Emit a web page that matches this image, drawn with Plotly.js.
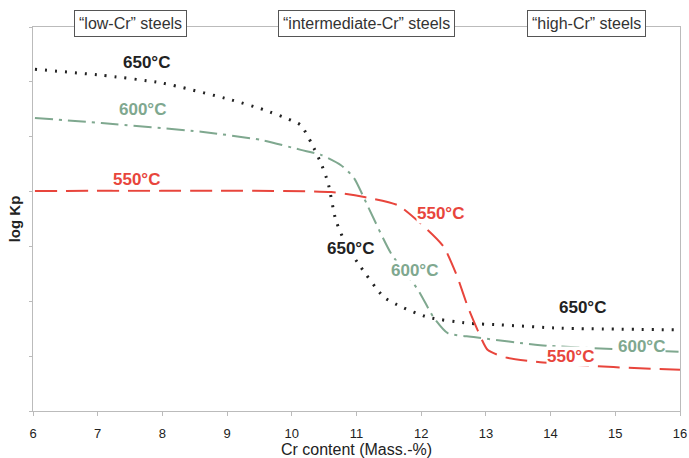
<!DOCTYPE html>
<html><head><meta charset="utf-8">
<script src="https://cdn.plot.ly/plotly-3.0.1.min.js"></script>
<style>body{margin:0;background:#fff}#c{width:689px;height:458px}</style>
</head><body><div id="c"></div>
<script>
const xTicks = [6,7,8,9,10,11,12,13,14,15,16];
const x650 = [6.03,7.06,7.99,9.07,9.57,9.99,10.14,10.30,10.45,10.56,10.68,10.84,11.02,11.42,11.69,12.10,12.72,13.23,14.15,16.0];
const y650 = [6.23,6.12,5.98,5.67,5.49,5.30,5.21,4.89,4.52,4.16,3.48,3.03,2.70,2.08,1.90,1.71,1.60,1.57,1.51,1.48];
const x600 = [6.03,7.06,8.60,9.53,10.14,10.45,10.76,10.96,11.18,11.53,11.95,12.19,12.41,12.81,13.84,16.0];
const y600 = [5.34,5.25,5.09,4.94,4.76,4.67,4.48,4.25,3.72,2.88,2.21,1.71,1.42,1.35,1.20,1.08];
const x550 = [6.03,10.61,11.12,11.64,12.10,12.35,12.56,12.72,12.87,13.03,13.33,13.84,14.97,16.0];
const y550 = [4.01,3.99,3.90,3.75,3.30,2.99,2.44,1.90,1.48,1.11,0.97,0.89,0.80,0.75];
const regionLabels = ['“low-Cr” steels','“intermediate-Cr” steels','“high-Cr” steels'];
const regionX = [7.51,11.15,14.56];
const tempLabels = ['650°C','600°C','550°C','550°C','650°C','600°C','650°C','600°C','550°C'];
const tempX = [7.75,7.7,7.6,12.3,10.9,11.9,14.5,15.4,14.3];
const tempY = [6.35,5.5,4.22,3.6,2.97,2.56,1.88,1.17,0.99];

const cBlack='#222222', cGreen='#7fa88f', cRed='#e8453c';
const tempColors=[cBlack,cGreen,cRed,cRed,cBlack,cGreen,cBlack,cGreen,cRed];
const F='Liberation Sans, Arial';

const traces = [
 {x:x650,y:y650,mode:'lines',line:{color:cBlack,width:3,dash:'2px,8px',shape:'spline',smoothing:0.6}},
 {x:x600,y:y600,mode:'lines',line:{color:cGreen,width:2,dash:'18px,6px,3px,6px',shape:'spline',smoothing:0.6}},
 {x:x550,y:y550,mode:'lines',line:{color:cRed,width:2,dash:'22px,9px',shape:'spline',smoothing:0.6}}
];
const ann = [];
regionLabels.forEach((t,i)=>ann.push({x:regionX[i],y:1,xref:'x',yref:'paper',yanchor:'middle',yshift:4,text:t,showarrow:false,
 font:{family:F,size:16,color:'#333'},bgcolor:'#fff',bordercolor:'#555',borderwidth:1,borderpad:4}));
tempLabels.forEach((t,i)=>ann.push({x:tempX[i],y:tempY[i],text:'<b>'+t+'</b>',showarrow:false,bgcolor:'#fff',borderpad:0,
 font:{family:F,size:17,color:tempColors[i]}}));

Plotly.newPlot('c',traces,{
 width:689,height:458,showlegend:false,paper_bgcolor:'#fff',plot_bgcolor:'#fff',
 margin:{l:33,r:9,t:27,b:47},
 xaxis:{range:[6,16],tickvals:xTicks,ticktext:xTicks.map(String),showgrid:false,zeroline:false,showline:true,mirror:true,
  linecolor:'#bbb',linewidth:1,ticks:'outside',ticklen:4,tickcolor:'#bbb',ticklabelstandoff:6,
  tickfont:{family:F,size:13,color:'#222'},
  title:{text:'Cr content (Mass.-%)',font:{family:F,size:16,color:'#222'},standoff:1}},
 yaxis:{range:[0,7],dtick:1,showticklabels:false,showgrid:false,zeroline:false,showline:true,mirror:true,
  linecolor:'#bbb',linewidth:1,ticks:'outside',ticklen:3,tickcolor:'#bbb',
  title:{text:'<b>log Kp</b>',font:{family:F,size:15,color:'#222'},standoff:4}},
 annotations:ann
},{displayModeBar:false});
</script></body></html>
